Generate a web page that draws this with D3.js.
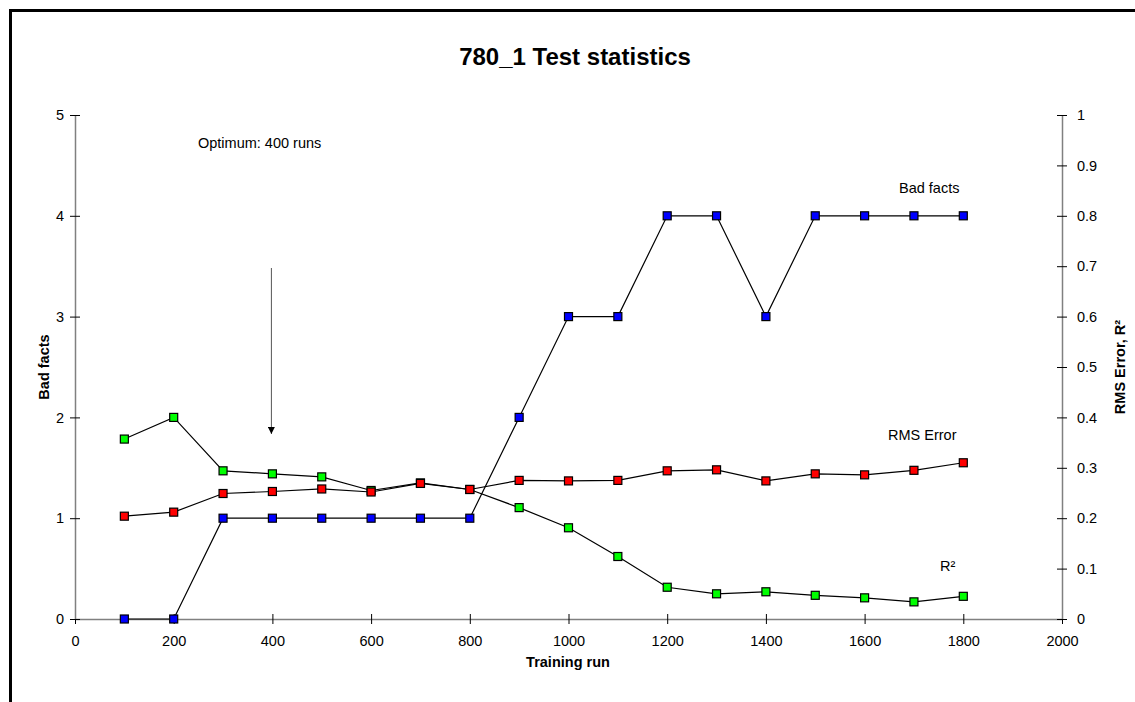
<!DOCTYPE html>
<html><head><meta charset="utf-8">
<script src="https://cdn.jsdelivr.net/npm/d3@7"></script>
<style>
body{margin:0;background:#fff;}
svg{display:block;font-family:"Liberation Sans",Arial,sans-serif;}
</style></head>
<body>
<svg id="c" width="1135" height="702"></svg>
<script>
const runs = [100,200,300,400,500,600,700,800,900,1000,1100,1200,1300,1400,1500,1600,1700,1800];
const badFacts = [0,0,1,1,1,1,1,1,2,3,3,4,4,3,4,4,4,4];
const rmsError = [0.204,0.212,0.249,0.253,0.258,0.252,0.269,0.257,0.275,0.274,0.275,0.294,0.296,0.274,0.288,0.286,0.295,0.310];
const rSquared = [0.357,0.400,0.294,0.288,0.282,0.255,0.270,0.257,0.221,0.181,0.124,0.063,0.050,0.054,0.047,0.042,0.034,0.045];
const xTicks = [0,200,400,600,800,1000,1200,1400,1600,1800,2000];
const leftTicks = [0,1,2,3,4,5];
const rightTicks = [0,0.1,0.2,0.3,0.4,0.5,0.6,0.7,0.8,0.9,1];

const FS = 14.5;
const svg = d3.select("#c");
// outer frame
svg.append("rect").attr("x",10.5).attr("y",10.5).attr("width",1200).attr("height",800)
  .attr("fill","none").attr("stroke","#000").attr("stroke-width",3);

const x = d3.scaleLinear().domain([0,2000]).range([75,1062]);
const yL = d3.scaleLinear().domain([0,5]).range([619,115]);
const yR = d3.scaleLinear().domain([0,1]).range([619,115]);

svg.append("text").attr("x",575).attr("y",65).attr("text-anchor","middle")
  .attr("font-size",24).attr("font-weight","bold").text("780_1 Test statistics");

function styleAxis(g){
  g.attr("font-size",FS).attr("font-family","'Liberation Sans',Arial,sans-serif");
  g.select(".domain").attr("stroke","#808080").attr("stroke-width",1.5);
  g.selectAll(".tick line").attr("stroke","#000");
  g.selectAll(".tick text").attr("fill","#000");
}
// x axis
const gx = svg.append("g").attr("transform","translate(0,619)")
  .call(d3.axisBottom(x).tickValues(xTicks).tickFormat(d3.format("d")).tickSizeOuter(0).tickSizeInner(5).tickPadding(12));
styleAxis(gx);
gx.selectAll(".tick line").attr("y1",-5);
// left axis
const gl = svg.append("g").attr("transform","translate(75,0)")
  .call(d3.axisLeft(yL).tickValues(leftTicks).tickFormat(d3.format("d")).tickSizeOuter(0).tickSizeInner(5).tickPadding(6));
styleAxis(gl);
gl.selectAll(".tick line").attr("x1",5);
// right axis
const gr = svg.append("g").attr("transform","translate(1062,0)")
  .call(d3.axisRight(yR).tickValues(rightTicks).tickFormat(d=>d===0?"0":d===1?"1":d3.format(".1f")(d)).tickSizeOuter(0).tickSizeInner(5).tickPadding(10));
styleAxis(gr);
gr.selectAll(".tick line").attr("x1",-5);

// axis titles
svg.append("text").attr("transform","translate(49,367) rotate(-90)").attr("text-anchor","middle")
  .attr("font-size",FS).attr("font-weight","bold").text("Bad facts");
svg.append("text").attr("x",568).attr("y",667).attr("text-anchor","middle")
  .attr("font-size",FS).attr("font-weight","bold").text("Training run");
svg.append("text").attr("transform","translate(1125,367) rotate(-90)").attr("text-anchor","middle")
  .attr("font-size",FS).attr("font-weight","bold").text("RMS Error, R²");

function series(vals, yScale, color){
  const pts = runs.map((r,i)=>[r,vals[i]]);
  svg.append("path").datum(pts).attr("fill","none").attr("stroke","#000").attr("stroke-width",1.2)
    .attr("d", d3.line().x(d=>x(d[0])).y(d=>yScale(d[1])));
  svg.append("g").selectAll("rect").data(pts).join("rect")
    .attr("x",d=>x(d[0])-4).attr("y",d=>yScale(d[1])-4).attr("width",8).attr("height",8)
    .attr("fill",color).attr("stroke","#000").attr("stroke-width",1.2);
}
series(rSquared, yR, "#00ff00");
series(rmsError, yR, "#ff0000");
series(badFacts, yL, "#0000ff");

// labels
svg.append("text").attr("x",899).attr("y",193).attr("font-size",FS).text("Bad facts");
svg.append("text").attr("x",888).attr("y",440).attr("font-size",FS).text("RMS Error");
svg.append("text").attr("x",940).attr("y",571).attr("font-size",FS).text("R²");
svg.append("text").attr("x",198).attr("y",148).attr("font-size",FS).text("Optimum: 400 runs");

// arrow
svg.append("defs").append("marker").attr("id","ah").attr("viewBox","0 0 10 10").attr("refX",10).attr("refY",5)
  .attr("markerWidth",8).attr("markerHeight",7).attr("markerUnits","userSpaceOnUse").attr("orient","auto")
  .append("path").attr("d","M0,0L10,5L0,10z").attr("fill","#000");
svg.append("line").attr("x1",x(400)-1).attr("x2",x(400)-1).attr("y1",268).attr("y2",434)
  .attr("stroke","#555").attr("stroke-width",1).attr("marker-end","url(#ah)");
</script>
</body></html>
